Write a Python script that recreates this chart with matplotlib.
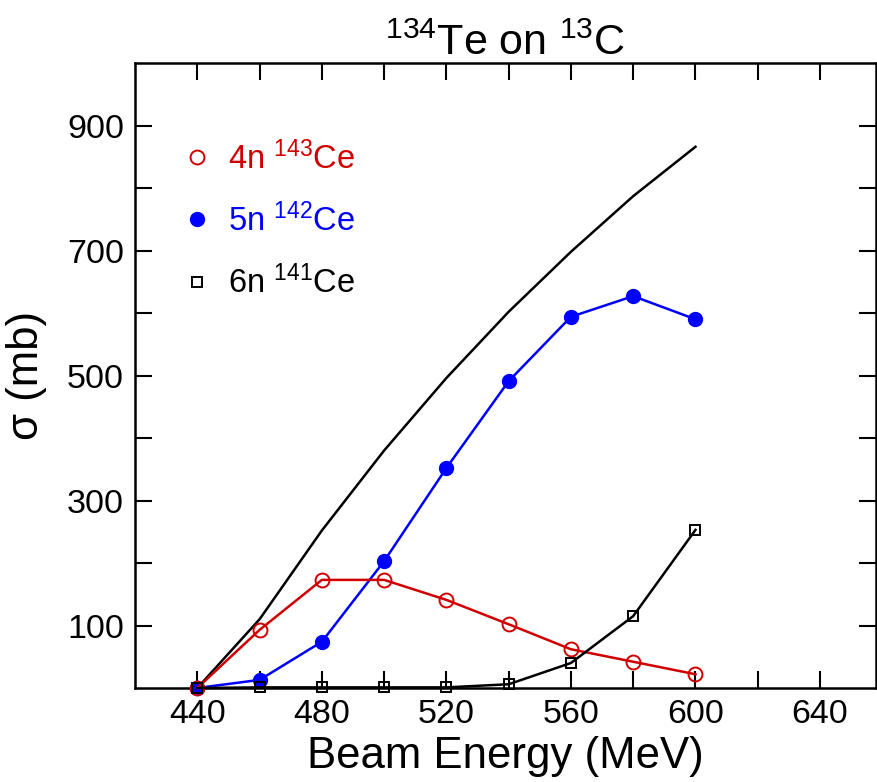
import matplotlib
matplotlib.use("Agg")
import matplotlib.pyplot as plt
import numpy as np

plt.rcParams['font.family'] = ['Liberation Sans', 'DejaVu Sans']
plt.rcParams['mathtext.fontset'] = 'custom'
plt.rcParams['mathtext.rm'] = 'Liberation Sans'
plt.rcParams['mathtext.default'] = 'regular'

energy = [440, 460, 480, 500, 520, 540, 560, 580, 600]
sigma_4n = [0, 93, 173, 173, 141, 102, 62, 42, 22]
sigma_5n = [0, 13, 74, 203, 352, 491, 594, 627, 590]
sigma_6n = [0, 1, 1, 1, 1, 6, 40, 115, 253]
sigma_total = [0, 110, 252, 380, 496, 602, 698, 787, 866]

red = '#d00000'
blue = '#0000ff'

fig = plt.figure(figsize=(8.78, 7.82), dpi=100)
ax = fig.add_axes([0.1538, 0.1202, 0.8440, 0.7992])

ax.plot(energy, sigma_total, color='black', lw=1.8, clip_on=False)
l4, = ax.plot(energy, sigma_4n, color=red, lw=1.8, marker='o', ms=10,
              mfc='none', mec=red, mew=1.4, clip_on=False, zorder=4,
              label='4n $^{143}$Ce')
l5, = ax.plot(energy, sigma_5n, color=blue, lw=1.8, marker='o', ms=10,
              mfc=blue, mec=blue, clip_on=False, zorder=3,
              label='5n $^{142}$Ce')
l6, = ax.plot(energy, sigma_6n, color='black', lw=1.8, marker='s', ms=7.5,
              mfc='none', mec='black', mew=1.4, clip_on=False, zorder=5,
              label='6n $^{141}$Ce')

ax.set_xlim(420, 658)
ax.set_ylim(0, 1000)

xt = np.arange(440, 660, 20)
ax.set_xticks(xt)
ax.set_xticklabels([str(v) if v % 40 == 0 else '' for v in xt])
yt = np.arange(100, 1000, 100)
ax.set_yticks(yt)
ax.set_yticklabels([str(v) if v % 200 == 100 else '' for v in yt])

ax.tick_params(direction='in', length=12, width=1.5, top=True, right=True,
               labelsize=24.5, pad=8)
for s in ax.spines.values():
    s.set_linewidth(1.8)

ax.set_xlabel('Beam Energy (MeV)', fontsize=31.5, labelpad=4)
ax.set_ylabel('σ (mb)', fontsize=31.5, labelpad=14)
ax.set_title('$^{134}$Te on $^{13}$C', fontsize=31, pad=6)

leg = ax.legend(handles=[l4, l5, l6], loc='upper left',
                bbox_to_anchor=(0.027, 0.922), frameon=False, fontsize=23.5,
                handlelength=0.8, handletextpad=0.55, labelspacing=0.85)
for txt, c in zip(leg.get_texts(), [red, blue, 'black']):
    txt.set_color(c)
for h in leg.legend_handles:
    h.set_linestyle('none')

fig.savefig('out.png', dpi=100)
